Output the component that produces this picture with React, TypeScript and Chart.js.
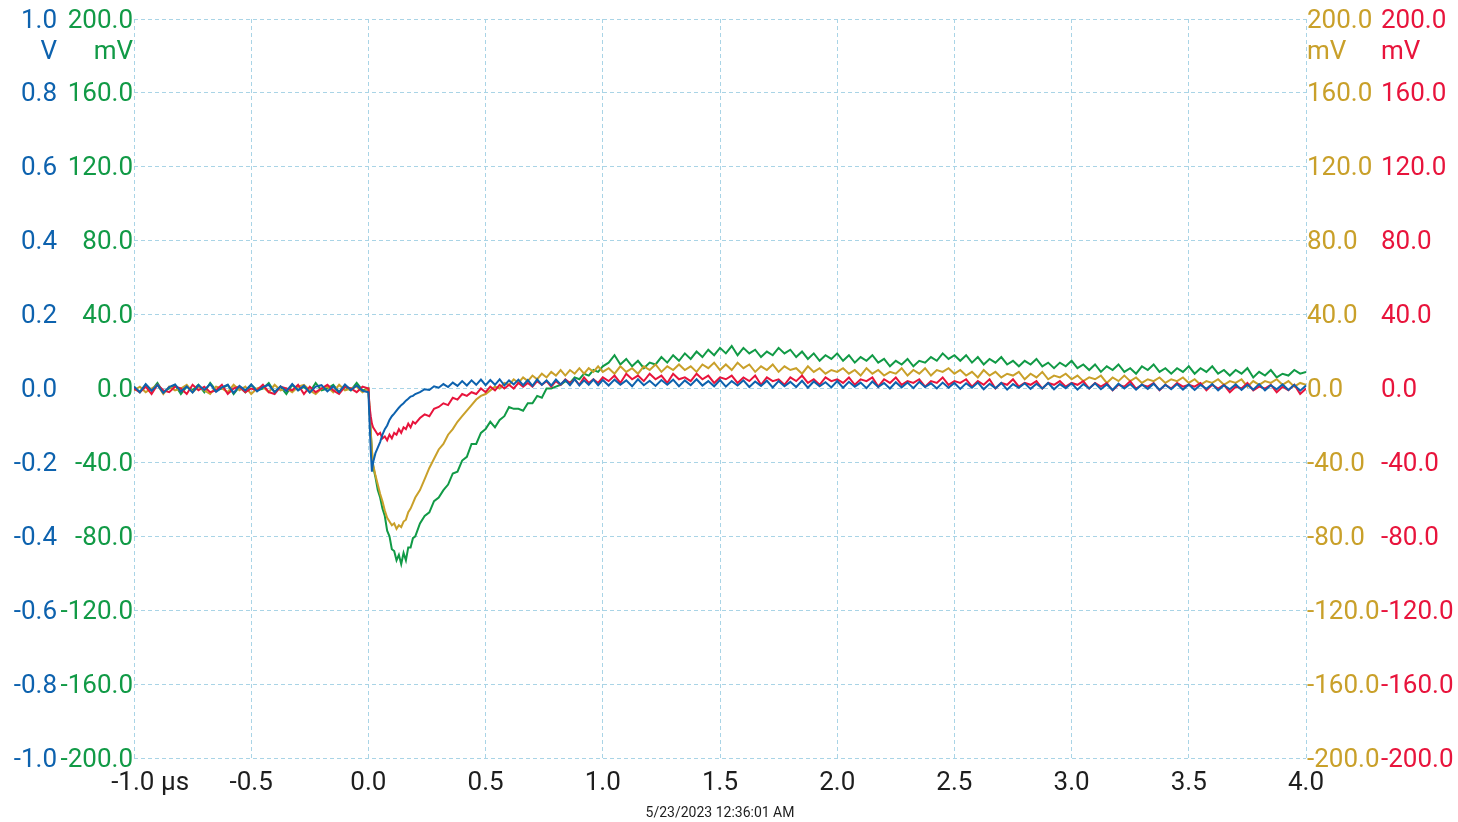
import React, { useEffect, useRef } from "react";
import { Chart, registerables } from "chart.js";

Chart.register(...registerables);

// ---- data (time in µs) ----
const TIME_US = [
  -1.0, -0.975, -0.95, -0.925, -0.9, -0.875, -0.85, -0.825, -0.8, -0.775,
  -0.75, -0.725, -0.7, -0.675, -0.65, -0.625, -0.6, -0.575, -0.55, -0.525,
  -0.5, -0.475, -0.45, -0.425, -0.4, -0.375, -0.35, -0.325, -0.3, -0.275,
  -0.25, -0.225, -0.2, -0.175, -0.15, -0.125, -0.1, -0.075, -0.05, -0.025,
  0, 0.005, 0.01, 0.015, 0.02,
  0.03, 0.04, 0.05, 0.06, 0.07, 0.08, 0.09, 0.1, 0.11, 0.12, 0.13, 0.14, 0.15, 0.16, 0.17, 0.18, 0.19, 0.2,
  0.22, 0.24, 0.26, 0.28, 0.3, 0.32, 0.34, 0.36, 0.38, 0.4,
  0.42, 0.44, 0.46, 0.48, 0.5, 0.52, 0.54, 0.56, 0.58, 0.6,
  0.62, 0.64, 0.66, 0.68, 0.7, 0.72, 0.74, 0.76, 0.78, 0.8,
  0.82, 0.84, 0.86, 0.88, 0.9, 0.92, 0.94, 0.96, 0.98, 1.0,
  1.025, 1.05, 1.075, 1.1, 1.125, 1.15, 1.175, 1.2, 1.225, 1.25, 1.275, 1.3, 1.325, 1.35, 1.375, 1.4, 1.425, 1.45, 1.475, 1.5,
  1.525, 1.55, 1.575, 1.6, 1.625, 1.65, 1.675, 1.7, 1.725, 1.75, 1.775, 1.8, 1.825, 1.85, 1.875, 1.9, 1.925, 1.95, 1.975, 2.0,
  2.025, 2.05, 2.075, 2.1, 2.125, 2.15, 2.175, 2.2, 2.225, 2.25, 2.275, 2.3, 2.325, 2.35, 2.375, 2.4, 2.425, 2.45, 2.475, 2.5,
  2.525, 2.55, 2.575, 2.6, 2.625, 2.65, 2.675, 2.7, 2.725, 2.75, 2.775, 2.8, 2.825, 2.85, 2.875, 2.9, 2.925, 2.95, 2.975, 3.0,
  3.025, 3.05, 3.075, 3.1, 3.125, 3.15, 3.175, 3.2, 3.225, 3.25, 3.275, 3.3, 3.325, 3.35, 3.375, 3.4, 3.425, 3.45, 3.475, 3.5,
  3.525, 3.55, 3.575, 3.6, 3.625, 3.65, 3.675, 3.7, 3.725, 3.75, 3.775, 3.8, 3.825, 3.85, 3.875, 3.9, 3.925, 3.95, 3.975, 4.0,
];

// Channel 1 (V, left outer axis)
const BLUE_V = [
  0.005, -0.01, 0.012, -0.006, 0.01, -0.012, 0.004, 0.011, -0.008, 0.006,
  -0.011, 0.009, -0.004, 0.012, -0.009, 0.003, 0.01, -0.012, 0.007, -0.005,
  0.011, -0.008, 0.004, 0.01, -0.01, 0.006, -0.007, 0.012, -0.005, 0.008,
  -0.011, 0.005, 0.009, -0.008, 0.006, -0.01, 0.011, -0.004, 0.008, -0.006,
  -0.01, -0.09, -0.17, -0.225, -0.2,
  -0.175, -0.16, -0.145, -0.125, -0.11, -0.1, -0.085, -0.075, -0.068, -0.06, -0.052, -0.045, -0.04, -0.033, -0.028, -0.022, -0.02, -0.015,
  -0.01, -0.002, -0.004, 0.006, 0.002, 0.012, 0.004, 0.016, 0.007, 0.02,
  0.008, 0.022, 0.01, 0.024, 0.009, 0.023, 0.01, 0.025, 0.008, 0.022,
  0.011, 0.024, 0.009, 0.023, 0.007, 0.025, 0.01, 0.022, 0.008, 0.024,
  0.011, 0.023, 0.009, 0.025, 0.008, 0.022, 0.01, 0.024, 0.009, 0.023,
  0.008, 0.024, 0.01, 0.022, 0.006, 0.025, 0.009, 0.021, 0.007, 0.023, 0.01, 0.024, 0.006, 0.022, 0.009, 0.025, 0.008, 0.02, 0.006, 0.023,
  0.005, 0.02, 0.008, 0.022, 0.004, 0.019, 0.007, 0.021, 0.003, 0.02, 0.006, 0.018, 0.004, 0.021, 0.002, 0.019, 0.006, 0.017, 0.003, 0.02,
  0.002, 0.018, 0.005, 0.016, 0.001, 0.019, 0.004, 0.015, 0.0, 0.017, 0.003, 0.016, 0.001, 0.018, 0.004, 0.014, 0.0, 0.016, 0.002, 0.015,
  -0.001, 0.014, 0.002, 0.016, -0.002, 0.013, 0.001, 0.015, -0.003, 0.012, 0.002, 0.014, -0.001, 0.013, 0.0, 0.015, -0.002, 0.012, 0.001, 0.014,
  -0.003, 0.012, 0.0, 0.014, -0.002, 0.011, -0.004, 0.013, 0.0, 0.012, -0.003, 0.011, -0.001, 0.013, -0.004, 0.01, -0.002, 0.012, -0.003, 0.011,
  -0.004, 0.01, -0.001, 0.012, -0.005, 0.009, -0.002, 0.011, -0.004, 0.01, -0.003, 0.012, -0.005, 0.009, -0.002, 0.011, -0.004, 0.01, -0.006, 0.008,
];

// Channel 2 (mV, left inner axis)
const GREEN_MV = [
  1, -2, 2, -1, 3, -2, 0, 2, -3, 1,
  -1, 2, -2, 3, -1, 0, 2, -3, 1, -2,
  2, -1, 0, 3, -2, 1, -3, 2, -1, 1,
  -2, 3, -1, 0, 2, -2, 1, -1, 3, -1,
  0, -12, -24, -34, -42,
  -48, -55, -59, -65, -69, -77, -80, -87, -88, -93, -90, -95, -89, -93, -86, -86, -81, -80,
  -73, -69, -67, -61, -59, -55, -52, -46, -45, -39,
  -37, -30, -30, -24, -22, -18, -21, -17, -15, -10,
  -11, -11, -12, -8, -8, -4, -5, 0, 0, 1,
  2, 4, 3, 6, 5, 8, 7, 10, 9, 12,
  14, 18, 13, 16, 12, 15, 11, 14, 13, 17, 14, 18, 15, 19, 16, 20, 17, 21, 18, 22,
  19, 23, 18, 22, 19, 21, 17, 20, 18, 22, 19, 21, 17, 20, 16, 19, 15, 18, 16, 19,
  15, 18, 14, 17, 15, 18, 14, 16, 12, 15, 13, 16, 12, 15, 14, 17, 15, 19, 16, 18,
  15, 18, 14, 17, 13, 16, 14, 17, 13, 15, 12, 15, 13, 16, 12, 14, 11, 14, 12, 15,
  11, 13, 10, 13, 9, 12, 10, 13, 9, 11, 8, 12, 10, 13, 9, 11, 8, 11, 9, 12,
  8, 11, 9, 12, 8, 10, 7, 10, 8, 11, 6, 9, 7, 10, 6, 8, 7, 10, 8, 9,
];

// Channel 3 (mV, right inner axis)
const YELLOW_MV = [
  -1, 1, -2, 0, 2, -3, 1, -1, 0, 2,
  -2, 1, -1, -3, 1, 0, -2, 2, -1, 1,
  -3, 0, 1, -2, 2, -1, 0, -2, 1, 2,
  -1, -3, 0, 1, -2, 2, -1, 0, 1, -2,
  0, -12, -23, -33, -41,
  -47, -52, -57, -61, -66, -70, -72, -74, -73, -76, -74, -75, -72, -71, -67, -65, -62, -59,
  -55, -49, -43, -38, -33, -30, -25, -22, -18, -15,
  -12, -9, -6, -4, -3, -1, 1, 0, 3, 2,
  5, 3, 6, 4, 7, 5, 8, 6, 9, 7,
  10, 7, 10, 8, 11, 8, 11, 9, 12, 9,
  11, 8, 12, 9, 11, 8, 12, 10, 13, 9, 12, 10, 13, 10, 12, 9, 13, 11, 14, 10,
  13, 10, 14, 11, 13, 9, 12, 10, 13, 9, 12, 10, 11, 8, 12, 9, 11, 8, 10, 9,
  11, 8, 10, 7, 11, 8, 10, 7, 9, 8, 11, 7, 10, 8, 11, 7, 10, 9, 11, 8,
  10, 7, 9, 6, 10, 7, 9, 6, 8, 7, 9, 5, 8, 6, 9, 5, 7, 6, 8, 5,
  7, 4, 6, 5, 7, 3, 6, 4, 7, 4, 6, 3, 5, 4, 6, 3, 5, 4, 6, 3,
  5, 2, 4, 3, 5, 2, 4, 3, 5, 1, 4, 2, 4, 3, 5, 2, 4, 1, 3, 2,
];

// Channel 4 (mV, right outer axis)
const RED_MV = [
  0, -2, 1, -3, 2, -1, -2, 1, 0, -3,
  2, -1, 1, -2, -1, 2, -3, 0, 1, -2,
  0, -1, 2, -2, -3, 1, 0, -1, 2, -3,
  1, -2, 0, 2, -1, -3, 1, 0, -2, 1,
  0, -10, -15, -19, -21,
  -23, -25, -24, -27, -26, -28, -25, -27, -24, -25, -22, -24, -21, -22, -19, -21, -18, -19,
  -16, -14, -15, -11, -10, -8, -9, -5, -6, -3,
  -4, -2, -3, 0, -2, 1, -1, 2, 0, 2,
  0, 3, 1, 3, 1, 4, 2, 4, 1, 4,
  2, 5, 3, 5, 2, 6, 3, 5, 3, 6,
  4, 7, 3, 8, 5, 7, 4, 8, 5, 7, 3, 8, 5, 6, 4, 8, 5, 7, 3, 6,
  5, 7, 3, 6, 4, 7, 2, 6, 4, 5, 2, 6, 4, 7, 3, 5, 2, 6, 4, 5,
  3, 6, 2, 5, 4, 6, 1, 5, 3, 6, 2, 4, 3, 5, 1, 4, 3, 6, 2, 4,
  3, 5, 1, 4, 2, 5, 0, 3, 2, 5, 1, 3, 2, 4, 0, 3, 2, 4, 1, 3,
  2, 4, 0, 3, 1, 3, -1, 2, 1, 4, 0, 2, 1, 3, -1, 2, 0, 3, 1, 2,
  1, 3, -1, 2, 0, 2, -2, 1, 0, 3, -1, 1, 0, 2, -2, 1, -1, 2, -3, 0,
];

const X_MIN = -1.0;
const X_MAX = 4.0;
const X_STEP = 0.5;
const X_UNIT = "µs";
const V_RANGE = [-1.0, 1.0, 0.2];
const MV_RANGE = [-200, 200, 40];
const DATE_LABEL = "5/23/2023 12:36:01 AM";

const C_BLUE = "#0d62ae";
const C_GREEN = "#119a46";
const C_YELLOW = "#c9a02a";
const C_RED = "#e8143c";
const C_GRID = "#a9d4e6";
const C_TEXT = "#1e1e1e";
const FONT = "Roboto";
const TICK_SIZE = 26;

function toPoints(values: number[]) {
  const n = Math.min(values.length, TIME_US.length);
  const pts: { x: number; y: number }[] = [];
  for (let i = 0; i < n; i++) pts.push({ x: TIME_US[i], y: values[i] });
  return pts;
}

function yAxis(
  position: "left" | "right",
  weight: number,
  color: string,
  range: number[],
  unit: string,
  width: number,
  showGrid: boolean
) {
  return {
    type: "linear",
    position,
    weight,
    min: range[0],
    max: range[1],
    ticks: {
      stepSize: range[2],
      color,
      padding: 1,
      labelOffset: 2,
      autoSkip: false,
      font: { family: FONT, size: TICK_SIZE },
      callback: (v: number, i: number, ticks: any[]) => {
        const val = Math.abs(v) < 1e-9 ? 0 : v;
        const s = val.toFixed(1);
        return i === ticks.length - 1 ? ["", s, unit] : s;
      },
    },
    grid: { display: showGrid, color: C_GRID, drawTicks: false, lineWidth: 1 },
    border: { display: false, dash: [4, 3] },
    afterFit: (s: any) => {
      s.width = width;
      s.paddingTop = 0;
      s.paddingBottom = 0;
    },
  };
}

export default function App() {
  const ref = useRef<HTMLCanvasElement>(null);

  useEffect(() => {
    if (!ref.current) return;
    const line = (label: string, values: number[], color: string, axis: string) => ({
      label,
      data: toPoints(values),
      yAxisID: axis,
      borderColor: color,
      backgroundColor: color,
      borderWidth: 2,
      pointRadius: 0,
      tension: 0,
      fill: false,
    });

    const chart = new Chart(ref.current, {
      type: "line",
      data: {
        datasets: [
          line("CH1", BLUE_V, C_BLUE, "yBlue"),
          line("CH4", RED_MV, C_RED, "yRed"),
          line("CH3", YELLOW_MV, C_YELLOW, "yYellow"),
          line("CH2", GREEN_MV, C_GREEN, "yGreen"),
        ],
      },
      options: {
        responsive: false,
        animation: false,
        events: [],
        layout: { padding: { top: 19, left: 0, right: 0, bottom: 0 } },
        plugins: { legend: { display: false }, tooltip: { enabled: false } },
        scales: {
          x: {
            type: "linear",
            position: "bottom",
            min: X_MIN,
            max: X_MAX,
            ticks: {
              stepSize: X_STEP,
              color: C_TEXT,
              padding: 10,
              autoSkip: false,
              maxRotation: 0,
              font: { family: FONT, size: TICK_SIZE },
              callback: (v: number) => {
                const val = Math.abs(v) < 1e-9 ? 0 : v;
                const s = val.toFixed(1);
                return val === X_MIN ? "     " + s + " " + X_UNIT : s;
              },
            },
            grid: { color: C_GRID, drawTicks: false, lineWidth: 1 },
            border: { display: false, dash: [4, 3] },
            title: {
              display: true,
              text: DATE_LABEL,
              color: C_TEXT,
              font: { family: FONT, size: 14 },
              padding: { top: 4, bottom: 0 },
            },
            afterFit: (s: any) => {
              s.height = 64;
            },
          },
          yGreen: yAxis("left", 0, C_GREEN, MV_RANGE, "mV", 76, true),
          yBlue: yAxis("left", 1, C_BLUE, V_RANGE, "V", 58, false),
          yYellow: yAxis("right", 0, C_YELLOW, MV_RANGE, "mV", 74, false),
          yRed: yAxis("right", 1, C_RED, MV_RANGE, "mV", 78, false),
        },
      } as any,
    });
    return () => chart.destroy();
  }, []);

  return (
    <div style={{ position: "absolute", left: 0, top: 0, width: 1458, height: 822, background: "#fff" }}>
      <canvas ref={ref} width={1458} height={822} style={{ display: "block" }} />
    </div>
  );
}
